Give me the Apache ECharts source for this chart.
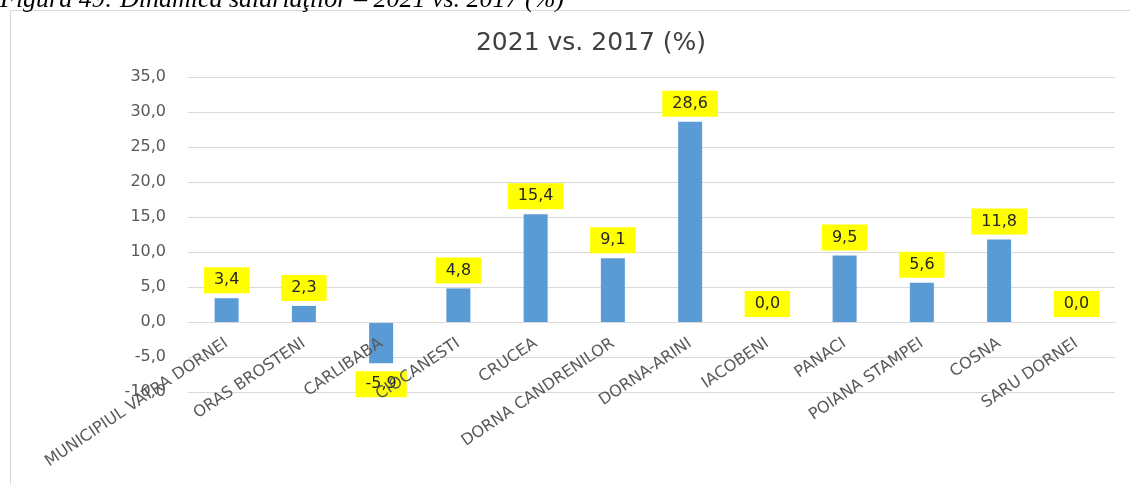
<!DOCTYPE html>
<html>
<head>
<meta charset="utf-8">
<script src="https://cdn.jsdelivr.net/npm/echarts@6/dist/echarts.min.js"></script>
<style>
    html, body { margin: 0; padding: 0; background: #fff; }
    #chart { width: 1130px; height: 484px; }
</style>
</head>
<body>
<div id="chart"></div>
<script>
// localitati
const categories = [
    'MUNICIPIUL VATRA DORNEI', 'ORAS BROSTENI', 'CARLIBABA', 'CIOCANESTI',
    'CRUCEA', 'DORNA CANDRENILOR', 'DORNA-ARINI', 'IACOBENI',
    'PANACI', 'POIANA STAMPEI', 'COSNA', 'SARU DORNEI'
];
// dinamica 2021 vs 2017 (%)
const values = [3.4, 2.3, -5.9, 4.8, 15.4, 9.1, 28.6, 0.0, 9.5, 5.6, 11.8, 0.0];
const yTicks = { min: -10, max: 35, interval: 5 };

const fmt = v => Number(v).toFixed(1).replace('.', ',');
const FONT = 'DejaVu Sans';

const myChart = echarts.init(document.getElementById('chart'));

// axa categoriilor sta pe linia 0 (ca in Excel)
const plotTop = 77, plotBottom = 392;
const zeroOffset = (plotBottom - plotTop) * (0 - yTicks.min) / (yTicks.max - yTicks.min);

const option = {
    animation: false,
    backgroundColor: '#fff',
    title: {
        text: '2021 vs. 2017 (%)',
        left: 586,
        top: 26,
        textAlign: 'center',
        textStyle: {
            color: '#404040',
            fontSize: 25,
            fontWeight: 'normal',
            fontFamily: FONT
        }
    },
    graphic: [
        {
            type: 'rect',
            shape: { x: 10.5, y: 10.5, width: 1200, height: 600 },
            style: { fill: 'none', stroke: '#d9d9d9', lineWidth: 1 },
            silent: true
        },
        {
            type: 'text',
            x: 0,
            y: 13,
            style: {
                text: 'Figura 49: Dinamica salariaţilor – 2021 vs. 2017 (%)',
                font: 'italic 26px "Liberation Serif"',
                fill: '#000',
                verticalAlign: 'bottom'
            },
            silent: true
        }
    ],
    grid: {
        left: 188,
        right: 15,
        top: plotTop,
        bottom: 484 - plotBottom,
        containLabel: false,
        outerBoundsMode: 'none'
    },
    xAxis: {
        type: 'category',
        data: categories,
        offset: -zeroOffset,
        z: 5,
        axisLine: { onZero: false, lineStyle: { color: '#d9d9d9' } },
        axisTick: { show: false },
        axisLabel: {
            rotate: 34,
            interval: 0,
            margin: 20,
            color: '#595959',
            fontSize: 16,
            fontFamily: FONT
        }
    },
    yAxis: {
        type: 'value',
        min: yTicks.min,
        max: yTicks.max,
        interval: yTicks.interval,
        axisLine: { show: false },
        axisTick: { show: false },
        splitLine: { lineStyle: { color: '#d9d9d9' } },
        axisLabel: {
            margin: 22,
            color: '#595959',
            fontSize: 16,
            fontFamily: FONT,
            formatter: v => fmt(v)
        }
    },
    series: [
        {
            type: 'bar',
            barWidth: 24,
            itemStyle: { color: '#5b9bd5' },
            data: values.map(v => ({
                value: v,
                label: { position: v < 0 ? 'bottom' : 'top', distance: v < 0 ? 8 : 5 }
            })),
            label: {
                show: true,
                formatter: p => fmt(p.value),
                color: '#262626',
                fontSize: 16,
                lineHeight: 18,
                fontFamily: FONT,
                backgroundColor: '#ffff00',
                padding: [4, 10, 4, 10]
            }
        }
    ]
};

myChart.setOption(option);
window.addEventListener('resize', () => {
    myChart.resize();
});
</script>
</body>
</html>
